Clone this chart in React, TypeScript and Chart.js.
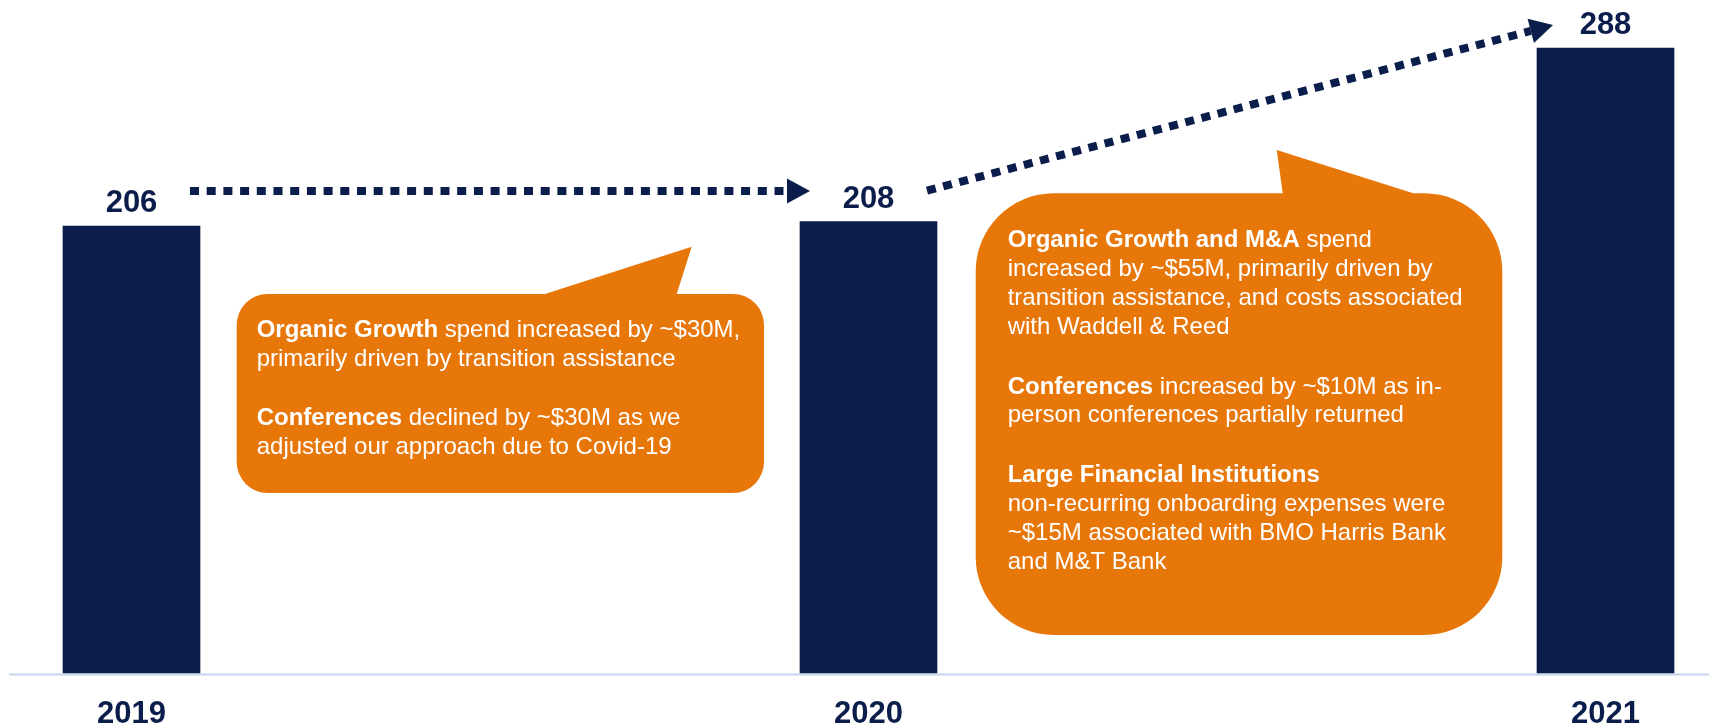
import React, { useEffect, useRef } from 'react';
import { Chart, registerables } from 'chart.js';

Chart.register(...registerables);

// ---------- data ----------
const categories: string[] = ['2019', '2020', '2021'];
const spendValues: number[] = [206, 208, 288];
const valueLabels: string[] = ['206', '208', '288'];

type Seg = [string, boolean];
const callout1Paragraphs: Seg[][][] = [
  [
    [['Organic Growth', true], [' spend increased by ~$30M,', false]],
    [['primarily driven by transition assistance', false]],
  ],
  [
    [['Conferences', true], [' declined by ~$30M as we', false]],
    [['adjusted our approach due to Covid-19', false]],
  ],
];
const callout2Paragraphs: Seg[][][] = [
  [
    [['Organic Growth and M&A', true], [' spend', false]],
    [['increased by ~$55M, primarily driven by', false]],
    [['transition assistance, and costs associated', false]],
    [['with Waddell & Reed', false]],
  ],
  [
    [['Conferences', true], [' increased by ~$10M as in-', false]],
    [['person conferences partially returned', false]],
  ],
  [
    [['Large Financial Institutions', true]],
    [['non-recurring onboarding expenses were', false]],
    [['~$15M associated with BMO Harris Bank', false]],
    [['and M&T Bank', false]],
  ],
];

// ---------- styles ----------
const NAVY = '#0B1D4B';
const ORANGE = '#E8770A';
const BASELINE = '#C8D4EE';
const FONT = '"Liberation Sans", Arial, Helvetica, sans-serif';
const W = 1709;
const H = 728;

function drawCallout(
  ctx: CanvasRenderingContext2D,
  l: number, t: number, r: number, b: number, rad: number,
  tailL: number, tailR: number, tipX: number, tipY: number,
) {
  ctx.save();
  ctx.fillStyle = ORANGE;
  ctx.beginPath();
  ctx.moveTo(l + rad, t);
  ctx.lineTo(tailL, t);
  ctx.lineTo(tipX, tipY);
  ctx.lineTo(tailR, t);
  ctx.arcTo(r, t, r, t + rad, rad);
  ctx.arcTo(r, b, r - rad, b, rad);
  ctx.arcTo(l, b, l, b - rad, rad);
  ctx.arcTo(l, t, l + rad, t, rad);
  ctx.closePath();
  ctx.fill();
  ctx.restore();
}

function drawParagraphs(
  ctx: CanvasRenderingContext2D, paras: Seg[][][], x: number, y0: number,
  lineH: number, paraExtra: number,
) {
  ctx.save();
  ctx.fillStyle = '#FFFFFF';
  ctx.textBaseline = 'alphabetic';
  ctx.textAlign = 'left';
  let y = y0;
  paras.forEach((para, pi) => {
    if (pi > 0) y += paraExtra;
    para.forEach((line) => {
      let cx = x;
      line.forEach(([txt, bold]) => {
        ctx.font = `${bold ? 'bold ' : ''}24px ${FONT}`;
        ctx.fillText(txt, cx, y);
        cx += ctx.measureText(txt).width;
      });
      y += lineH;
    });
  });
  ctx.restore();
}

function drawArrow(
  ctx: CanvasRenderingContext2D, x0: number, y0: number, tipX: number, tipY: number,
) {
  const ang = Math.atan2(tipY - y0, tipX - x0);
  const headLen = 23;
  const headHalf = 12.5;
  const bx = tipX - headLen * Math.cos(ang);
  const by = tipY - headLen * Math.sin(ang);
  ctx.save();
  ctx.strokeStyle = NAVY;
  ctx.lineWidth = 8;
  ctx.lineCap = 'butt';
  ctx.setLineDash([9, 7.7]);
  ctx.beginPath();
  ctx.moveTo(x0, y0);
  ctx.lineTo(bx, by);
  ctx.stroke();
  ctx.setLineDash([]);
  ctx.fillStyle = NAVY;
  const px = -Math.sin(ang);
  const py = Math.cos(ang);
  ctx.beginPath();
  ctx.moveTo(tipX, tipY);
  ctx.lineTo(bx + px * headHalf, by + py * headHalf);
  ctx.lineTo(bx - px * headHalf, by - py * headHalf);
  ctx.closePath();
  ctx.fill();
  ctx.restore();
}

const decorPlugin = {
  id: 'decor',
  beforeDatasetsDraw(chart: any) {
    const ctx = chart.ctx as CanvasRenderingContext2D;
    const y0 = chart.scales.y.getPixelForValue(0);
    ctx.save();
    ctx.strokeStyle = BASELINE;
    ctx.lineWidth = 2;
    ctx.beginPath();
    ctx.moveTo(9, y0 + 1.5);
    ctx.lineTo(W, y0 + 1.5);
    ctx.stroke();
    ctx.restore();
  },
  afterDatasetsDraw(chart: any) {
    const ctx = chart.ctx as CanvasRenderingContext2D;
    const xs = chart.scales.x;
    const ys = chart.scales.y;
    const cx = categories.map((_, i) => xs.getPixelForValue(i));
    const tops = spendValues.map((v) => ys.getPixelForValue(v));

    // value labels
    ctx.save();
    ctx.fillStyle = NAVY;
    ctx.font = `bold 31px ${FONT}`;
    ctx.textAlign = 'center';
    ctx.textBaseline = 'alphabetic';
    valueLabels.forEach((lab, i) => ctx.fillText(lab, cx[i], tops[i] - 14));
    ctx.restore();

    // arrows
    drawArrow(ctx, cx[0] + 58.5, tops[0] - 35, cx[1] - 58.5, tops[0] - 35);
    drawArrow(ctx, cx[1] + 58.5, tops[1] - 31, cx[2] - 52.5, tops[2] - 23);

    // callout 1
    const c1l = cx[0] + 105.2;
    const c1r = cx[1] - 104.5;
    drawCallout(ctx, c1l, 294, c1r, 493, 31, c1l + 308.3, c1l + 440, c1l + 455, 246.7);
    drawParagraphs(ctx, callout1Paragraphs, c1l + 20, 336.7, 28.9, 30.6);

    // callout 2
    const c2l = cx[1] + 107.2;
    const c2r = cx[2] - 103.2;
    drawCallout(ctx, c2l, 193.3, c2r, 635, 78, c2l + 307, c2l + 437.6, c2l + 301, 150);
    drawParagraphs(ctx, callout2Paragraphs, c2l + 32, 247.3, 28.9, 30.6);
  },
};

export default function App() {
  const ref = useRef<HTMLCanvasElement | null>(null);

  useEffect(() => {
    if (!ref.current) return;
    const chart = new Chart(ref.current, {
      type: 'bar',
      data: {
        labels: categories,
        datasets: [
          {
            data: spendValues,
            backgroundColor: NAVY,
            borderWidth: 0,
            barThickness: 137,
            clip: false as any,
          },
        ],
      },
      options: {
        responsive: false,
        animation: false,
        maintainAspectRatio: false,
        layout: { padding: { left: 131.5, right: 103.5, top: 22, bottom: -27 } },
        plugins: {
          legend: { display: false },
          tooltip: { enabled: false },
        },
        scales: {
          x: {
            offset: false,
            grid: { display: false, drawTicks: false },
            border: { display: false },
            ticks: {
              color: NAVY,
              padding: 27,
              autoSkip: false,
              maxRotation: 0,
              font: { family: FONT, size: 31, weight: 'bold', lineHeight: 28 / 31 },
            },
          },
          y: {
            display: false,
            min: 0,
            max: 300,
          },
        },
      },
      plugins: [decorPlugin],
    });
    return () => chart.destroy();
  }, []);

  return (
    <div style={{ position: 'absolute', left: 0, top: 0, width: W, height: H, background: '#fff' }}>
      <canvas ref={ref} width={W} height={H} style={{ display: 'block' }} />
    </div>
  );
}
